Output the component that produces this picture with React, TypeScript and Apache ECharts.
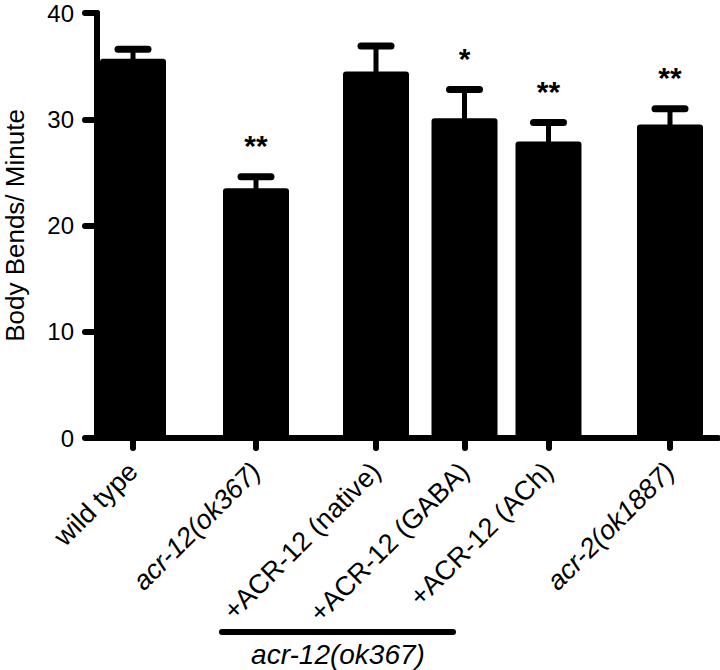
import React, { useEffect, useRef } from "react";
import * as echarts from "echarts";

const categories = [
  "wild type",
  "acr-12(ok367)",
  "+ACR-12 (native)",
  "+ACR-12 (GABA)",
  "+ACR-12 (ACh)",
  "acr-2(ok1887)",
];
const italicCategory = [false, true, false, false, false, true];
const xPositions = [1.2, 5.3, 9.3, 12.25, 15.05, 19.1];
const means = [35.7, 23.5, 34.5, 30.1, 27.9, 29.5];
const errorTops = [36.6, 24.6, 36.9, 32.8, 29.7, 31.0];
const significance = ["", "**", "", "*", "**", "**"];
const yTicks = [0, 10, 20, 30, 40];
const yAxisTitle = "Body Bends/ Minute";
const groupLabel = "acr-12(ok367)";

const FONT = "'Liberation Sans', Arial, Helvetica, sans-serif";

export default function App() {
  const ref = useRef<HTMLDivElement>(null);

  useEffect(() => {
    if (!ref.current) return;
    const chart = echarts.init(ref.current, null, { renderer: "svg" });

    const barData = xPositions.map((x, i) => [x, means[i], errorTops[i], i]);

    const option: any = {
      animation: false,
      backgroundColor: "#ffffff",
      textStyle: { fontFamily: FONT },
      grid: {
        left: 97,
        top: 13,
        width: 621,
        height: 425,
        containLabel: false,
        outerBoundsMode: "none",
      },
      xAxis: {
        type: "value",
        min: 0,
        max: 20.7,
        splitLine: { show: false },
        axisLine: {
          show: true,
          onZero: false,
          lineStyle: { color: "#000", width: 6, cap: "round" },
        },
        axisTick: {
          show: true,
          customValues: xPositions,
          length: 10,
          lineStyle: { color: "#000", width: 6, cap: "round" },
        },
        axisLabel: {
          customValues: xPositions,
          rotate: 45,
          margin: 29,
          fontSize: 27,
          color: "#000",
          fontFamily: FONT,
          hideOverlap: false,
          formatter: (v: number) => {
            const idx = xPositions.findIndex((p) => Math.abs(p - v) < 1e-6);
            if (idx < 0) return "";
            return italicCategory[idx]
              ? "{it|" + categories[idx] + "}"
              : categories[idx];
          },
          rich: {
            it: { fontStyle: "italic", fontSize: 27, color: "#000", fontFamily: FONT },
          },
        },
      },
      yAxis: {
        type: "value",
        min: yTicks[0],
        max: yTicks[yTicks.length - 1],
        interval: 10,
        name: yAxisTitle,
        nameLocation: "middle",
        nameGap: 69,
        nameTextStyle: { fontSize: 26, color: "#000", fontFamily: FONT },
        splitLine: { show: false },
        axisLine: {
          show: true,
          lineStyle: { color: "#000", width: 6, cap: "round" },
        },
        axisTick: {
          show: true,
          length: 12,
          lineStyle: { color: "#000", width: 6, cap: "round" },
        },
        axisLabel: {
          fontSize: 24,
          color: "#000",
          margin: 23,
          fontFamily: FONT,
        },
      },
      series: [
        {
          type: "custom",
          data: barData,
          z: 3,
          encode: { x: 0, y: [1, 2] },
          renderItem: (params: any, api: any) => {
            const x = api.value(0);
            const m = api.value(1);
            const t = api.value(2);
            const idx = api.value(3);
            const p0 = api.coord([x, 0]);
            const pm = api.coord([x, m]);
            const pt = api.coord([x, t]);
            const barW = 66;
            const half = 15;
            const children: any[] = [
              {
                type: "rect",
                shape: {
                  x: p0[0] - barW / 2,
                  y: pm[1],
                  width: barW,
                  height: p0[1] - pm[1],
                  r: [3, 3, 0, 0],
                },
                style: { fill: "#000" },
              },
              {
                type: "line",
                shape: { x1: pm[0], y1: pm[1] + 2, x2: pt[0], y2: pt[1] },
                style: { stroke: "#000", lineWidth: 5 },
              },
              {
                type: "line",
                shape: { x1: pt[0] - half, y1: pt[1], x2: pt[0] + half, y2: pt[1] },
                style: { stroke: "#000", lineWidth: 7, lineCap: "round" },
              },
            ];
            const star = significance[idx];
            if (star) {
              children.push({
                type: "text",
                x: pt[0],
                y: pt[1] - 31,
                style: {
                  text: star,
                  fill: "#000",
                  font: "bold 30px " + FONT,
                  textAlign: "center",
                  textVerticalAlign: "middle",
                },
              });
            }
            return { type: "group", children };
          },
        },
      ],
      graphic: [
        {
          type: "line",
          shape: { x1: 222, y1: 632, x2: 453, y2: 632 },
          style: { stroke: "#000", lineWidth: 6, lineCap: "round" },
        },
        {
          type: "text",
          x: 338,
          y: 654,
          style: {
            text: groupLabel,
            fill: "#000",
            font: "italic 28px " + FONT,
            textAlign: "center",
            textVerticalAlign: "middle",
          },
        },
      ],
    };

    chart.setOption(option);
    return () => chart.dispose();
  }, []);

  return (
    <div
      ref={ref}
      style={{ position: "fixed", left: 0, top: 0, width: 720, height: 670 }}
    />
  );
}
